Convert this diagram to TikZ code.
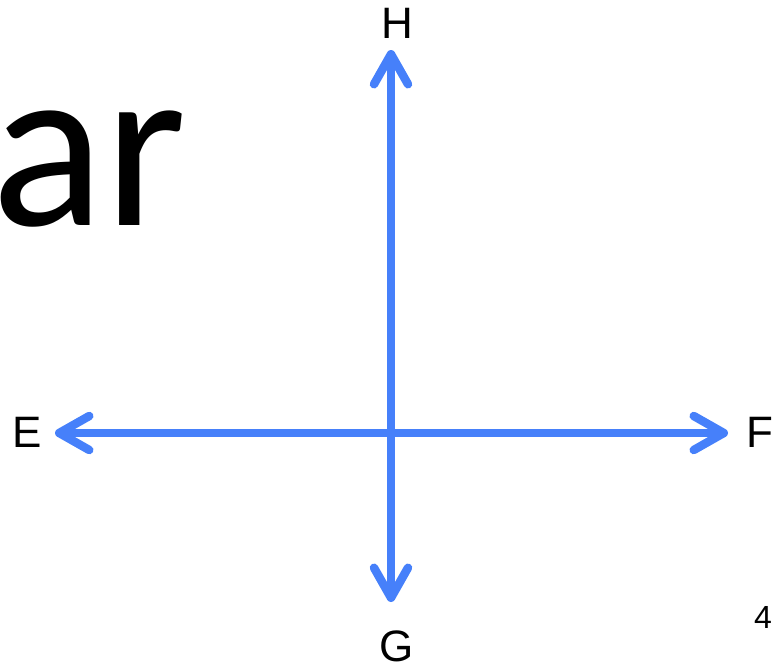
\documentclass[tikz,border=0pt]{standalone}
\usepackage{fontspec}
\setmainfont{Liberation Sans}
\newfontfamily\bigfont{Carlito}
\usetikzlibrary{arrows.meta}
\definecolor{axisblue}{RGB}{70,128,250}
\tikzset{
  axis/.style={draw=axisblue, line width=8.5pt,
    {Straight Barb[length=30pt,width=34pt,line cap=round,round]}-{Straight Barb[length=30pt,width=34pt,line cap=round,round]}},
  lbl/.style={inner sep=0pt, font=\fontsize{44}{44}\selectfont},
}
\begin{document}
\begin{tikzpicture}[x=1pt,y=-1pt]
\useasboundingbox (0,0) rectangle (782,667);
\node[anchor=base west, inner sep=0pt, font=\bigfont\fontsize{236}{236}\selectfont] (ar) at (-9,225) {ar};
\coordinate (top) at (391,50);
\coordinate (bot) at (391,602);
\coordinate (lft) at (55,433);
\coordinate (rgt) at (728,433);
\draw[axis] (lft) -- (rgt);
\draw[axis] (bot) -- (top);
\node[lbl] (H) at (397,23) {H};
\node[lbl] (E) at (27,432) {E};
\node[lbl] (F) at (760,432) {F};
\node[lbl] (G) at (397,646) {G};
\node[inner sep=0pt, font=\fontsize{32}{32}\selectfont] (n4) at (763,617) {4};
\end{tikzpicture}
\end{document}
